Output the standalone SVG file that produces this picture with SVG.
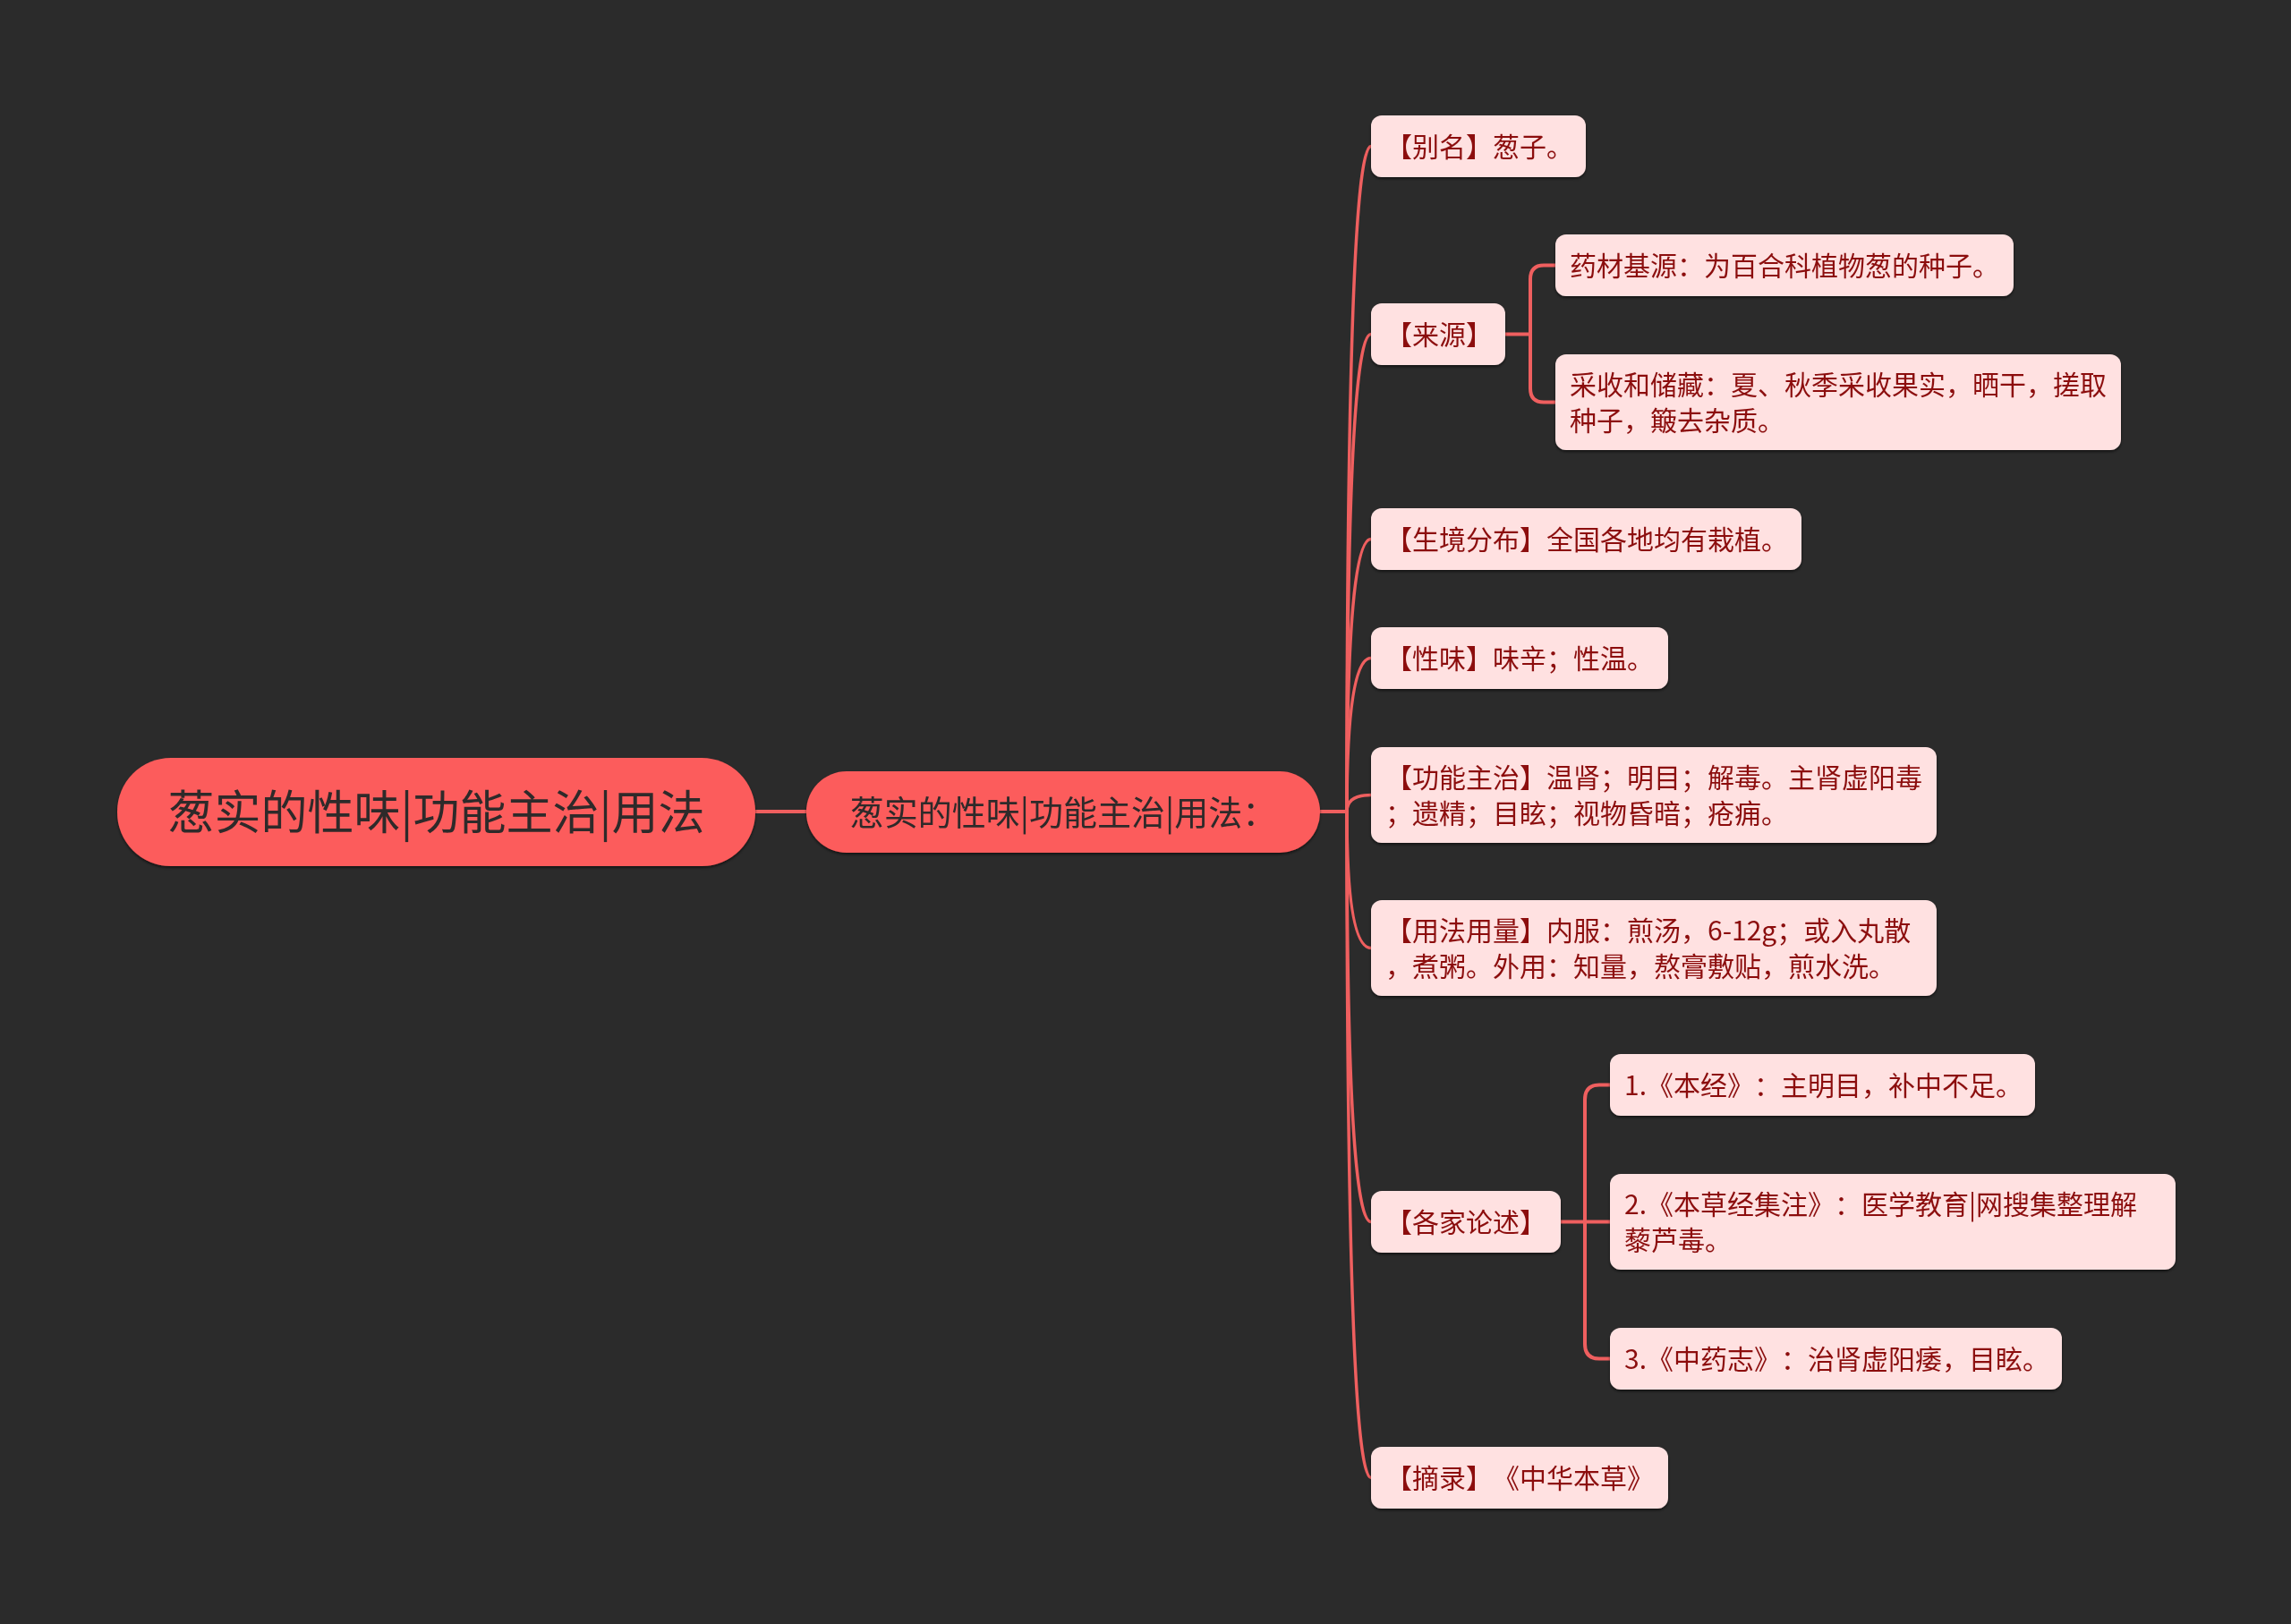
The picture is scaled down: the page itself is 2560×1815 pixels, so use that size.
<svg xmlns="http://www.w3.org/2000/svg" width="2560" height="1815" viewBox="0 0 2560 1815">
<defs>
<filter id="sh" x="-10%" y="-20%" width="120%" height="140%">
<feDropShadow dx="0" dy="2" stdDeviation="1.5" flood-color="#000000" flood-opacity="0.55"/>
</filter>
</defs>
<style>
.bg{fill:#2b2b2b}
.root{fill:#fc5b5b}
.sub{fill:#fc5b5b}
.leaf{fill:#ffe1e1}
text{text-spacing-trim:space-all;font-kerning:none}
.tr{font-family:"Noto Sans CJK SC","Noto Sans",sans-serif;font-size:52px;fill:#2f2a2a}
.ts{font-family:"Noto Sans CJK SC","Noto Sans",sans-serif;font-size:38px;fill:#2f2a2a}
.tl{font-family:"Noto Sans CJK SC","Noto Sans",sans-serif;font-size:30px;fill:#8c1111}
.c{fill:none;stroke:#ef5f5f;stroke-width:4;stroke-linecap:round}
.c2{fill:none;stroke:#ef5f5f;stroke-width:3.5;stroke-linecap:round}
</style>
<rect class="bg" x="0" y="0" width="2560" height="1815"/>
<g id="connectors">
<path class="c" d="M844 907 L901 907"/>
<path class="c" d="M1475 907 L1505 907"/>
<path class="c2" d="M1505 907 Q1505 163.5 1532 163.5"/>
<path class="c2" d="M1505 907 Q1505 373.5 1532 373.5"/>
<path class="c2" d="M1505 907 Q1505 602.5 1532 602.5"/>
<path class="c2" d="M1505 907 Q1505 735.5 1532 735.5"/>
<path class="c2" d="M1505 907 Q1505 888.5 1532 888.5"/>
<path class="c2" d="M1505 907 Q1505 1059.5 1532 1059.5"/>
<path class="c2" d="M1505 907 Q1505 1365.5 1532 1365.5"/>
<path class="c2" d="M1505 907 Q1505 1651.5 1532 1651.5"/>
<path class="c" d="M1682 373.5 L1710 373.5"/>
<path class="c" d="M1710 373.5 L1710 312 Q1710 296.5 1725 296.5 L1738 296.5"/>
<path class="c" d="M1710 373.5 L1710 434 Q1710 449.5 1725 449.5 L1738 449.5"/>
<path class="c" d="M1744 1365.5 L1799 1365.5"/>
<path class="c" d="M1771 1365.5 L1771 1229 Q1771 1212.5 1787 1212.5 L1799 1212.5"/>
<path class="c" d="M1771 1365.5 L1771 1502 Q1771 1518.5 1787 1518.5 L1799 1518.5"/>
</g>
<g id="root" filter="url(#sh)">
<rect class="root" x="131" y="847" width="713" height="121" rx="60"/>
<text class="tr" x="487.5" y="927" text-anchor="middle">葱实的性味|功能主治|用法</text>
</g>
<g id="n-main" filter="url(#sh)">
<rect class="sub" x="901" y="862" width="574" height="91" rx="45"/>
<text class="ts" x="1188" y="921.5" text-anchor="middle">葱实的性味|功能主治|用法：</text>
</g>
<g id="n-bieming" filter="url(#sh)">
<rect class="leaf" x="1532" y="129" width="240" height="69" rx="12"/>
<text class="tl" x="1548" y="174.5">【别名】葱子。</text>
</g>
<g id="n-laiyuan" filter="url(#sh)">
<rect class="leaf" x="1532" y="339" width="150" height="69" rx="12"/>
<text class="tl" x="1548" y="384.5">【来源】</text>
</g>
<g id="n-yaocai" filter="url(#sh)">
<rect class="leaf" x="1738" y="262" width="512" height="69" rx="12"/>
<text class="tl" x="1754" y="307.5">药材基源：为百合科植物葱的种子。</text>
</g>
<g id="n-caishou" filter="url(#sh)">
<rect class="leaf" x="1738" y="396" width="632" height="107" rx="12"/>
<text class="tl" x="1754" y="441">采收和储藏：夏、秋季采收果实，晒干，搓取</text>
<text class="tl" x="1754" y="481">种子，簸去杂质。</text>
</g>
<g id="n-shengjing" filter="url(#sh)">
<rect class="leaf" x="1532" y="568" width="481" height="69" rx="12"/>
<text class="tl" x="1548" y="613.5">【生境分布】全国各地均有栽植。</text>
</g>
<g id="n-xingwei" filter="url(#sh)">
<rect class="leaf" x="1532" y="701" width="332" height="69" rx="12"/>
<text class="tl" x="1548" y="746.5">【性味】味辛；性温。</text>
</g>
<g id="n-gongneng" filter="url(#sh)">
<rect class="leaf" x="1532" y="835" width="632" height="107" rx="12"/>
<text class="tl" x="1548" y="880">【功能主治】温肾；明目；解毒。主肾虚阳毒</text>
<text class="tl" x="1548" y="920">；遗精；目眩；视物昏暗；疮痈。</text>
</g>
<g id="n-yongfa" filter="url(#sh)">
<rect class="leaf" x="1532" y="1006" width="632" height="107" rx="12"/>
<text class="tl" x="1548" y="1051">【用法用量】内服：煎汤，6-12g；或入丸散</text>
<text class="tl" x="1548" y="1091">，煮粥。外用：知量，熬膏敷贴，煎水洗。</text>
</g>
<g id="n-gejia" filter="url(#sh)">
<rect class="leaf" x="1532" y="1331" width="212" height="69" rx="12"/>
<text class="tl" x="1548" y="1376.5">【各家论述】</text>
</g>
<g id="n-benjing" filter="url(#sh)">
<rect class="leaf" x="1799" y="1178" width="475" height="69" rx="12"/>
<text class="tl" x="1815" y="1223.5">1.《本经》：主明目，补中不足。</text>
</g>
<g id="n-bencao" filter="url(#sh)">
<rect class="leaf" x="1799" y="1312" width="632" height="107" rx="12"/>
<text class="tl" x="1815" y="1357">2.《本草经集注》：医学教育|网搜集整理解</text>
<text class="tl" x="1815" y="1397">藜芦毒。</text>
</g>
<g id="n-zhongyao" filter="url(#sh)">
<rect class="leaf" x="1799" y="1484" width="505" height="69" rx="12"/>
<text class="tl" x="1815" y="1529.5">3.《中药志》：治肾虚阳痿，目眩。</text>
</g>
<g id="n-zhailu" filter="url(#sh)">
<rect class="leaf" x="1532" y="1617" width="332" height="69" rx="12"/>
<text class="tl" x="1548" y="1662.5">【摘录】《中华本草》</text>
</g>
</svg>
